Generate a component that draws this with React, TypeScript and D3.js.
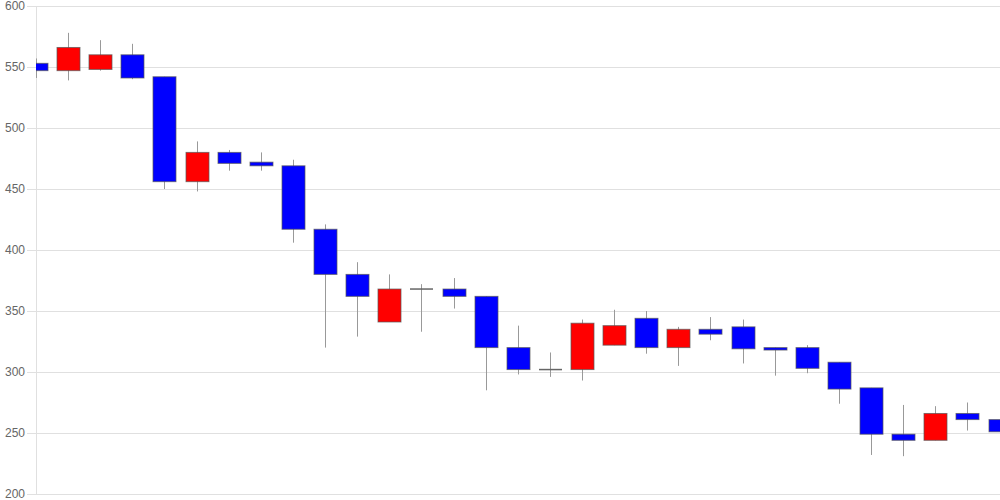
import React from "react";
import * as d3 from "d3";

const opens = [553, 547, 548, 560, 542, 456, 480, 472, 469, 417, 380, 341, 368, 368, 362, 320, 302, 302, 322, 344, 320, 335, 337, 320, 320, 308, 287, 249, 244, 266, 261];
const highs = [557, 578, 572, 569, 542, 489, 482, 480, 474, 421, 390, 380, 372, 377, 362, 338, 316, 343, 351, 350, 337, 345, 343, 320, 322, 308, 287, 273, 272, 275, 263];
const lows = [541, 539, 547, 540, 450, 448, 465, 465, 406, 320, 329, 341, 333, 352, 285, 298, 296, 293, 322, 315, 305, 326, 307, 297, 299, 274, 232, 231, 244, 252, 246];
const closes = [547, 566, 560, 541, 456, 480, 471, 469, 417, 380, 362, 368, 368, 362, 320, 302, 302, 340, 338, 320, 335, 331, 319, 318, 303, 286, 249, 244, 266, 261, 251];
const yTicks = [200, 250, 300, 350, 400, 450, 500, 550, 600];

const W = 1000;
const H = 500;
const left = 36;
const right = 1000;
const top = 6;
const bottom = 494;

export default function App() {
  const x = d3.scaleLinear().domain([0, opens.length - 1]).range([36, 999.5]);
  const y = d3.scaleLinear().domain([200, 600]).range([bottom, top]);
  const bw = 23;

  return (
    <svg
      width={W}
      height={H}
      style={{ position: "absolute", left: 0, top: 0, background: "#fff" }}
      fontFamily="'Liberation Sans', Arial, sans-serif"
    >
      <defs>
        <clipPath id="plot">
          <rect x={left} y={0} width={right - left} height={H} />
        </clipPath>
      </defs>
      {yTicks.map((t) => (
        <g key={t}>
          <line x1={27} x2={right} y1={Math.round(y(t)) + 0.5} y2={Math.round(y(t)) + 0.5} stroke="#e0e0e0" strokeWidth={1} />
          <text x={25} y={y(t)} dy="0.35em" textAnchor="end" fontSize={12} fill="#666">
            {t}
          </text>
        </g>
      ))}
      <line x1={left + 0.5} x2={left + 0.5} y1={top} y2={bottom} stroke="#e0e0e0" />
      <g clipPath="url(#plot)">
        {opens.map((o, i) => {
          const c = closes[i];
          const cx = Math.round(x(i)) + 0.5;
          const up = c > o;
          const flat = c === o;
          const fill = up ? "#ff0000" : "#0000ff";
          const yt = y(Math.max(o, c));
          const yb = y(Math.min(o, c));
          return (
            <g key={i}>
              <line x1={cx} x2={cx} y1={y(highs[i])} y2={y(lows[i])} stroke="#999" strokeWidth={1} />
              {flat ? (
                <line x1={cx - bw / 2} x2={cx + bw / 2} y1={yt} y2={yt} stroke="#666" strokeWidth={1.5} />
              ) : (
                <rect
                  x={cx - bw / 2}
                  y={yt}
                  width={bw}
                  height={Math.max(1, yb - yt)}
                  fill={fill}
                  stroke="#555"
                  strokeOpacity={0.7}
                  strokeWidth={1}
                />
              )}
            </g>
          );
        })}
      </g>
    </svg>
  );
}
